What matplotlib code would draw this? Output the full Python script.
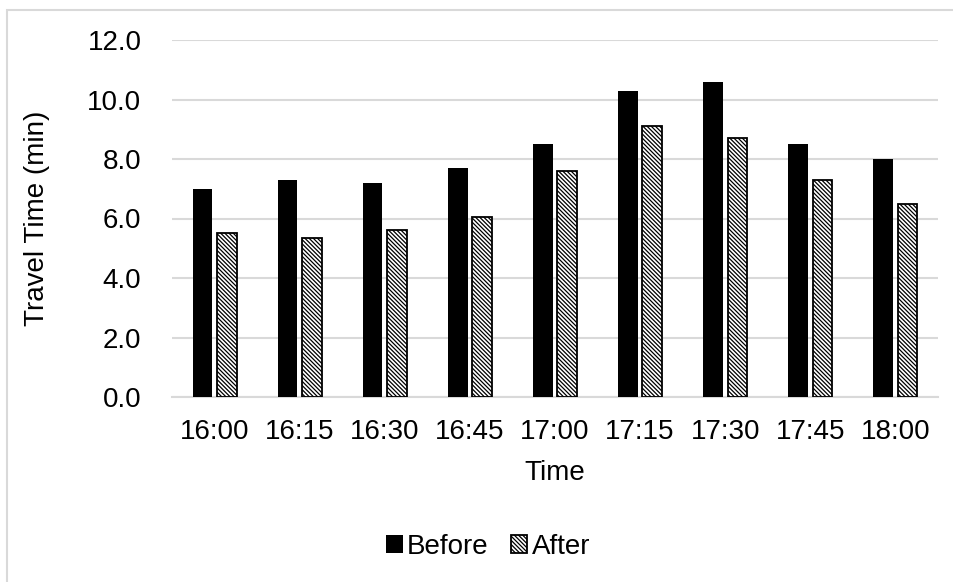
import matplotlib.pyplot as plt
import numpy as np
from matplotlib.patches import Rectangle

plt.rcParams['font.family'] = ['Liberation Sans', 'DejaVu Sans']
plt.rcParams['hatch.linewidth'] = 0.9

times = ['16:00', '16:15', '16:30', '16:45', '17:00', '17:15', '17:30', '17:45', '18:00']
before = [7.0, 7.3, 7.2, 7.7, 8.5, 10.3, 10.6, 8.5, 8.0]
after = [5.5, 5.35, 5.6, 6.05, 7.6, 9.1, 8.7, 7.3, 6.5]

fig = plt.figure(figsize=(9.54, 5.82), dpi=100)
ax = fig.add_axes([172 / 954, 1 - 397 / 582, (938 - 172) / 954, (397 - 40) / 582])

x = np.arange(len(times))
w = 0.23
ax.bar(x - 0.143, before, w, color='black', label='Before', zorder=3)
ax.bar(x + 0.143, after, w, color='white', edgecolor='black', linewidth=1.3,
       hatch='\\' * 8, label='After', zorder=3)

ax.set_xlim(-0.5, len(times) - 0.5)
ax.set_ylim(0, 12)
ax.set_yticks(np.arange(0, 12.1, 2))
ax.set_yticklabels([f'{v:.1f}' for v in np.arange(0, 12.1, 2)])
ax.set_xticks(x)
ax.set_xticklabels(times)
ax.tick_params(length=0, labelsize=20, colors='#000000')
ax.tick_params(axis='y', pad=22)
ax.tick_params(axis='x', pad=16)
ax.grid(axis='y', color='#d9d9d9', linewidth=1.5, zorder=0)
for s in ['top', 'right', 'left']:
    ax.spines[s].set_visible(False)
ax.spines['bottom'].set_color('#d9d9d9')
ax.spines['bottom'].set_linewidth(1.5)

ax.set_xlabel('Time', fontsize=20)
ax.set_ylabel('Travel Time (min)', fontsize=20)
ax.xaxis.set_label_coords(0.5, (397 - 473) / 357, transform=ax.transAxes)
ax.xaxis.label.set_va('center')
ax.yaxis.set_label_coords((37 - 172) / 766, 0.5)
ax.yaxis.label.set_va('center')

fig.legend(loc='center', bbox_to_anchor=(488 / 954, 1 - 547 / 582), ncol=2,
           frameon=False, fontsize=20, handlelength=0.6, handleheight=0.6,
           handletextpad=0.15, columnspacing=0.8)

fig.patches.append(Rectangle((7 / 954, -0.05), 1.1, 1 - 10 / 582 + 0.05,
                             transform=fig.transFigure, fill=False,
                             edgecolor='#d9d9d9', linewidth=1.5))

fig.savefig('out.png', dpi=100)
